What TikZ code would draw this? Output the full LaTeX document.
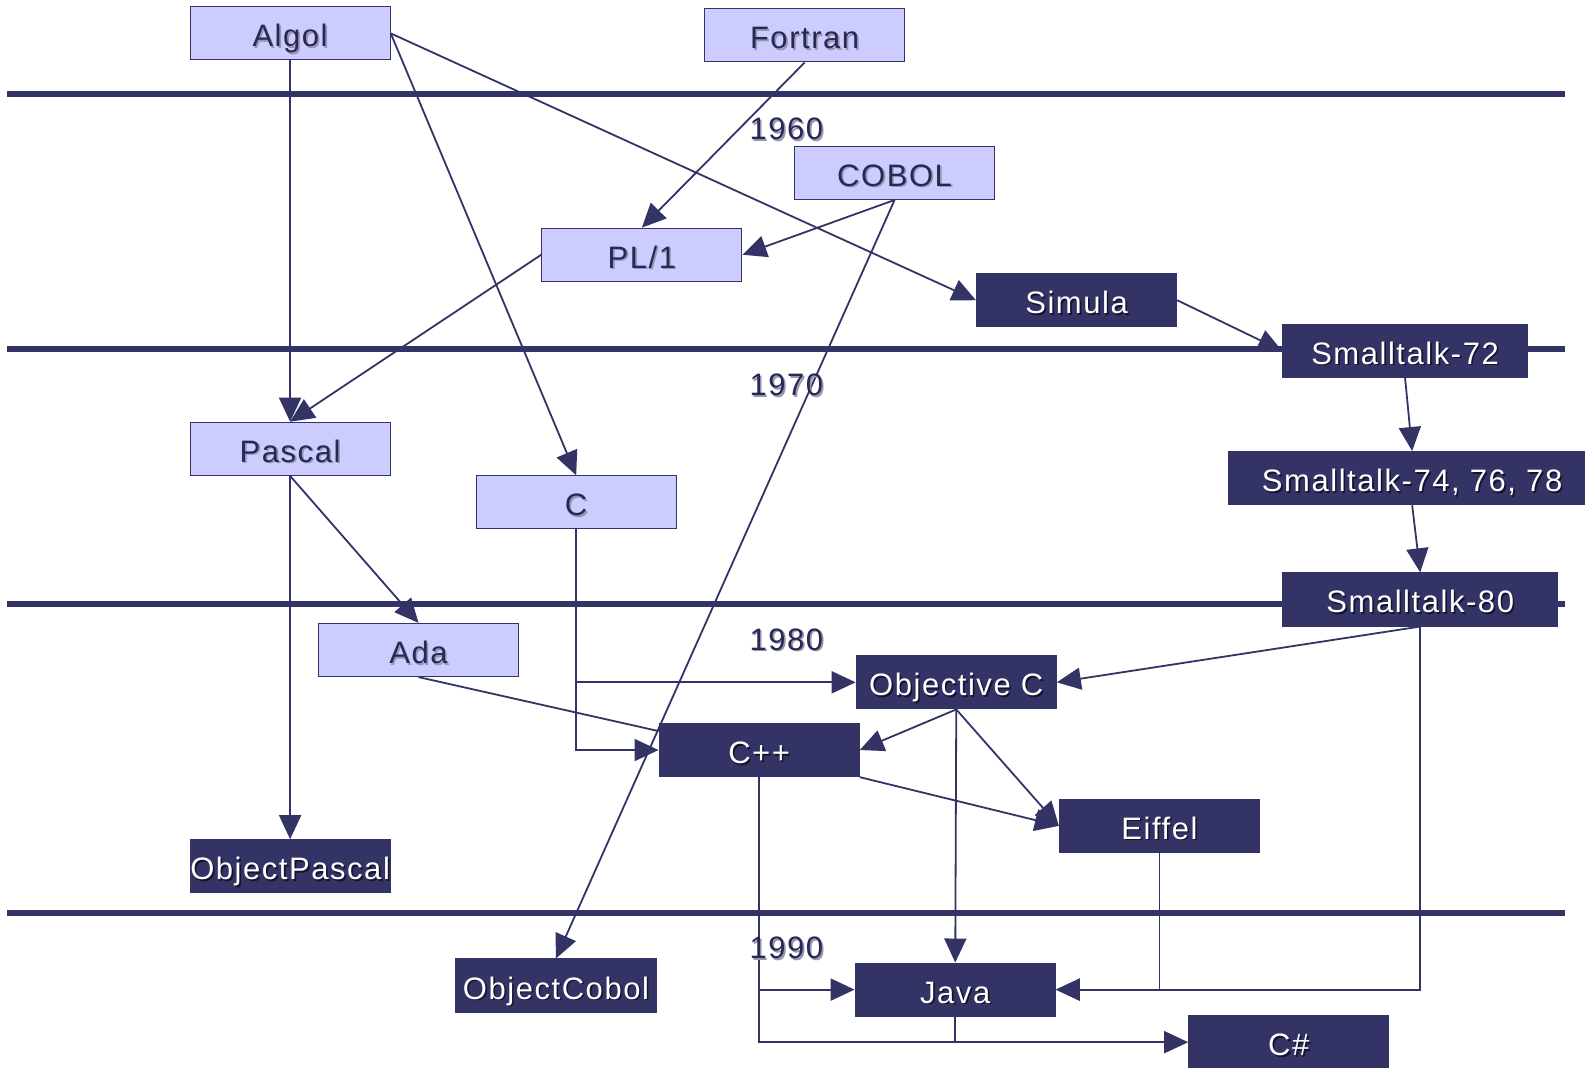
\documentclass[tikz,border=0pt]{standalone}
\usepackage{fontspec}
\setmainfont{Liberation Sans}[LetterSpace=5]
\usetikzlibrary{arrows.meta,calc,backgrounds}
\definecolor{navy}{RGB}{51,51,102}
\definecolor{ink}{RGB}{40,40,85}
\definecolor{lav}{RGB}{204,204,255}
\definecolor{softshade}{RGB}{150,150,175}
\definecolor{deepshade}{RGB}{20,20,45}

% label text with a small drop shadow behind it
\newcommand\shadowtext[2]{\leavevmode\rlap{\kern1.6pt\raisebox{-1.6pt}{\color{#1}#2}}#2}

\begin{document}
\begin{tikzpicture}[x=1.0108pt,y=-1.0108pt,
  box/.style={draw=navy, line width=1.2pt, minimum height=53pt, minimum width=200pt,
              inner sep=0pt, text height=30pt, text depth=3pt,
              font=\fontsize{31}{37}\selectfont},
  lbox/.style={box, fill=lav, text=ink},
  dbox/.style={box, fill=navy, text=white},
  era/.style={draw=navy, line width=6pt},
  year/.style={text=ink, text height=30pt, text depth=3pt, font=\fontsize{31}{37}\selectfont},
  link/.style={draw=navy, line width=1.8pt, -{Triangle[length=24pt,width=22pt]}},
  joint/.style={draw=navy, line width=1.8pt}]

\useasboundingbox (0,0) rectangle (1568,1056);

% decade separators and their labels
\draw[era] (7,93) -- (1548,93);
\draw[era] (7,345) -- (1548,345);
\draw[era] (7,598) -- (1548,598);
\draw[era] (7,903) -- (1548,903);
\node[year] (y60) at (778,125) {\shadowtext{softshade}{1960}};
\node[year] (y70) at (778,378) {\shadowtext{softshade}{1970}};
\node[year] (y80) at (778,630) {\shadowtext{softshade}{1980}};
\node[year] (y90) at (778,935) {\shadowtext{softshade}{1990}};

% languages
\node[lbox] (algol)   at (287,33)  {\shadowtext{softshade}{Algol}};
\node[lbox] (fortran) at (796,35)  {\shadowtext{softshade}{Fortran}};
\node[lbox] (cobol)   at (885,171) {\shadowtext{softshade}{COBOL}};
\node[lbox] (pl1)     at (635,252) {\shadowtext{softshade}{PL/1}};
\node[lbox] (pascal)  at (287,444) {\shadowtext{softshade}{Pascal}};
\node[lbox] (c)       at (570,497) {\shadowtext{softshade}{C}};
\node[lbox] (ada)     at (414,643) {\shadowtext{softshade}{Ada}};
\node[dbox] (simula)  at (1065,297) {\shadowtext{deepshade}{Simula}};
\node[dbox, minimum width=245pt] (st72) at (1390,347) {\shadowtext{deepshade}{Smalltalk-72}};
\node[dbox, minimum width=368pt] (st74) at (1397,473) {\shadowtext{deepshade}{Smalltalk-74, 76, 78}};
\node[dbox, minimum width=275pt] (st80) at (1405,593) {\shadowtext{deepshade}{Smalltalk-80}};
\node[dbox] (objc)    at (946,675) {\shadowtext{deepshade}{Objective C}};
\node[dbox] (cpp)     at (751,742) {\shadowtext{deepshade}{C++}};
\node[dbox] (eiffel)  at (1147,817) {\shadowtext{deepshade}{Eiffel}};
\node[dbox] (opascal) at (287,857) {\shadowtext{deepshade}{ObjectPascal}};
\node[dbox] (ocobol)  at (550,975) {\shadowtext{deepshade}{ObjectCobol}};
\node[dbox] (java)    at (945,979) {\shadowtext{deepshade}{Java}};
\node[dbox] (csharp)  at (1275,1031) {\shadowtext{deepshade}{C\#}};

% lineage
\begin{scope}[on background layer]
\draw[link] (algol.south) -- (pascal.north);
\draw[link] (algol.east) -- (c.north);
\draw[link] (algol.east) -- (simula.west);
\draw[link] (fortran.south) -- (pl1.north);
\draw[link] (cobol.south) -- (pl1.east);
\draw[link] (cobol.south) -- (ocobol.north);
\draw[link] (pl1.west) -- (pascal.north);
\draw[link] (simula.east) -- (st72.west);
\draw[link] (st72.south) -- (st74.north);
\draw[link] (st74.south) -- (st80.north);
\draw[link] (pascal.south) -- (opascal.north);
\draw[link] (pascal.south) -- (ada.north);
\draw[link] (c.south) |- (objc.west);
\draw[link] (c.south) |- (cpp.west);
\draw[joint] (ada.south) -- ($(cpp.north west)!0.15!(cpp.south west)$);
\draw[link] (st80.south) -- (objc.east);
\draw[link] (st80.south) |- (java.east);
\draw[link] (objc.south) -- (cpp.east);
\draw[link] (objc.south) -- (eiffel.west);
\draw[link] (objc.south) -- (java.north);
\draw[link] (cpp.south east) -- (eiffel.west);
\draw[link] (cpp.south) |- (java.west);
\draw[link] (cpp.south) |- (csharp.west);
\draw[joint] (java.south) -- (java.south |- csharp.west);
\draw[link] (eiffel.south) |- (java.east);
\end{scope}
\end{tikzpicture}
\end{document}
